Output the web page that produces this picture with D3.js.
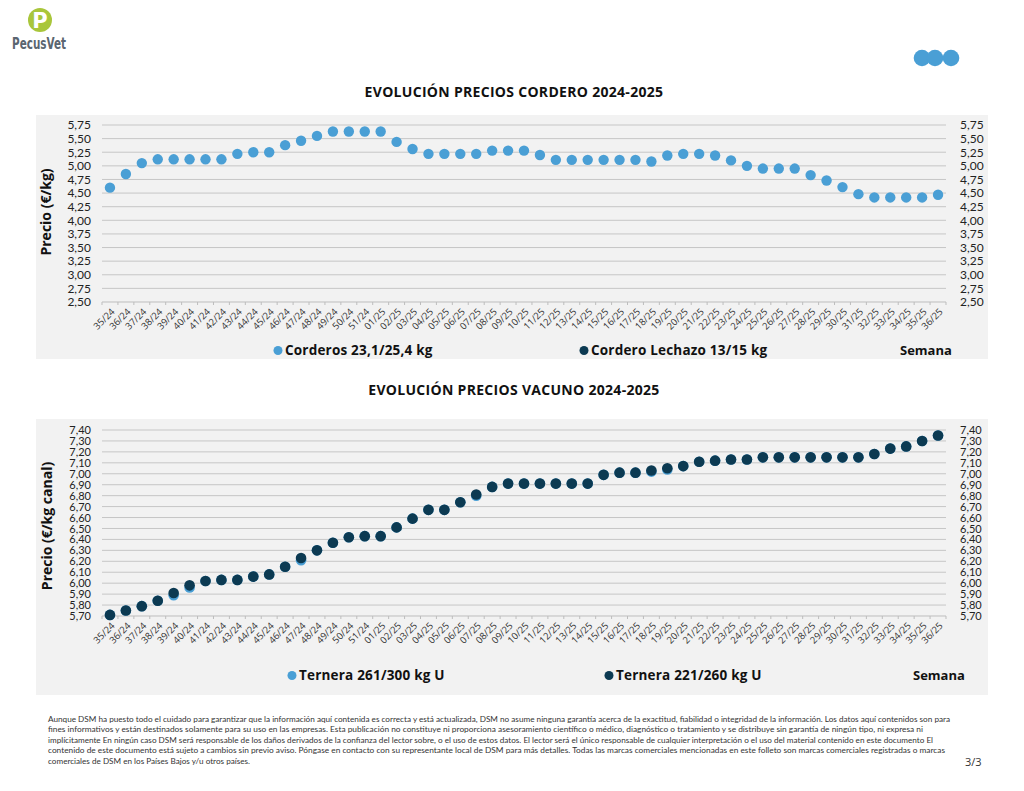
<!DOCTYPE html>
<html>
<head>
<meta charset="utf-8">
<script src="https://cdn.jsdelivr.net/npm/d3@7"></script>
<style>
  body { margin: 0; background: #fff; }
  svg { display: block; }
  text { font-family: "Open Sans", Lato, sans-serif; }
</style>
</head>
<body>
<script>
var width = 1024;
var height = 791;

// weeks 35/24 .. 51/24 and 01/25 .. 36/25
var weeks = ['35/24', '36/24', '37/24', '38/24', '39/24', '40/24', '41/24', '42/24', '43/24', '44/24', '45/24', '46/24', '47/24', '48/24', '49/24', '50/24', '51/24',
  '01/25', '02/25', '03/25', '04/25', '05/25', '06/25', '07/25', '08/25', '09/25', '10/25', '11/25', '12/25', '13/25', '14/25', '15/25', '16/25', '17/25', '18/25',
  '19/25', '20/25', '21/25', '22/25', '23/25', '24/25', '25/25', '26/25', '27/25', '28/25', '29/25', '30/25', '31/25', '32/25', '33/25', '34/25', '35/25', '36/25'];

var corderos = [4.60, 4.85, 5.05, 5.12, 5.12, 5.12, 5.12, 5.12, 5.22, 5.25, 5.25, 5.38, 5.46, 5.55, 5.63, 5.63, 5.63,
  5.63, 5.44, 5.31, 5.22, 5.22, 5.22, 5.22, 5.28, 5.28, 5.28, 5.20, 5.11, 5.11, 5.11, 5.11, 5.11, 5.11, 5.08,
  5.19, 5.22, 5.22, 5.19, 5.10, 5.00, 4.95, 4.95, 4.95, 4.83, 4.73, 4.61, 4.48, 4.42, 4.42, 4.42, 4.42, 4.47];

var ternera261 = [5.71, 5.75, 5.79, 5.84, 5.89, 5.96, 6.02, 6.03, 6.03, 6.06, 6.08, 6.15, 6.21, 6.30, 6.37, 6.42, 6.43,
  6.43, 6.51, 6.59, 6.67, 6.67, 6.74, 6.80, 6.88, 6.91, 6.91, 6.91, 6.91, 6.91, 6.91, 6.99, 7.01, 7.01, 7.02,
  7.04, 7.07, 7.11, 7.12, 7.13, 7.13, 7.15, 7.15, 7.15, 7.15, 7.15, 7.15, 7.15, 7.18, 7.23, 7.25, 7.30, 7.35];

var ternera221 = [5.71, 5.75, 5.79, 5.84, 5.91, 5.98, 6.02, 6.03, 6.03, 6.06, 6.08, 6.15, 6.23, 6.30, 6.37, 6.42, 6.43,
  6.43, 6.51, 6.59, 6.67, 6.67, 6.74, 6.81, 6.88, 6.91, 6.91, 6.91, 6.91, 6.91, 6.91, 6.99, 7.01, 7.01, 7.03,
  7.05, 7.07, 7.11, 7.12, 7.13, 7.13, 7.15, 7.15, 7.15, 7.15, 7.15, 7.15, 7.15, 7.18, 7.23, 7.25, 7.30, 7.35];

var corderoTicks = [2.50, 2.75, 3.00, 3.25, 3.50, 3.75, 4.00, 4.25, 4.50, 4.75, 5.00, 5.25, 5.50, 5.75];
var vacunoTicks = [5.70, 5.80, 5.90, 6.00, 6.10, 6.20, 6.30, 6.40, 6.50, 6.60, 6.70, 6.80, 6.90, 7.00, 7.10, 7.20, 7.30, 7.40];

var footer = [
  'Aunque DSM ha puesto todo el cuidado para garantizar que la información aquí contenida es correcta y está actualizada, DSM no asume ninguna garantía acerca de la exactitud, fiabilidad o integridad de la información. Los datos aquí contenidos son para',
  'fines informativos y están destinados solamente para su uso en las empresas. Esta publicación no constituye ni proporciona asesoramiento científico o médico, diagnóstico o tratamiento y se distribuye sin garantía de ningún tipo, ni expresa ni',
  'implícitamente En ningún caso DSM será responsable de los daños derivados de la confianza del lector sobre, o el uso de estos datos. El lector será el único responsable de cualquier interpretación o el uso del material contenido en este documento El',
  'contenido de este documento está sujeto a cambios sin previo aviso. Póngase en contacto con su representante local de DSM para más detalles. Todas las marcas comerciales mencionadas en este folleto son marcas comerciales registradas o marcas',
  'comerciales de DSM en los Países Bajos y/u otros países.'
];
var footerWidths = [902, 875, 885, 897, 202];

var light = '#4a9fd5';
var dark = '#0c3a52';
var comma = function (v) { return d3.format('.2f')(v).replace('.', ','); };

var svg = d3.select('body').append('svg').attr('width', width).attr('height', height);

// header
svg.append('circle').attr('cx', 40).attr('cy', 20).attr('r', 12).attr('fill', '#a9c63b');
svg.append('text').attr('x', 40).attr('y', 28).attr('text-anchor', 'middle').attr('fill', '#fff')
  .style('font-family', 'DejaVu Sans').style('font-weight', 'bold').style('font-size', '21px').text('P');
svg.append('text').attr('x', 12).attr('y', 49).attr('fill', '#5a6570')
  .attr('textLength', 54).attr('lengthAdjust', 'spacingAndGlyphs')
  .style('font-family', '"DejaVu Sans Condensed", "DejaVu Sans"').style('font-weight', 'bold').style('font-size', '15px').text('PecusVet');
[922, 935, 951].forEach(function (cx) {
  svg.append('circle').attr('cx', cx).attr('cy', 58).attr('r', 8.3).attr('fill', light);
});

var x = d3.scaleBand().domain(weeks).range([102, 946]);

function chart(o) {
  var g = svg.append('g');
  g.append('rect').attr('x', 36).attr('y', o.top).attr('width', 952).attr('height', o.bottom - o.top).attr('fill', '#f2f2f2');
  g.append('text').attr('x', 514).attr('y', o.titleY).attr('text-anchor', 'middle').attr('fill', '#111')
    .style('font-size', '14px').style('letter-spacing', '0.3px').style('font-weight', 'bold').text(o.title);

  var y = d3.scaleLinear().domain(o.domain).range(o.yRange);

  g.append('g').selectAll('line').data(o.ticks.slice(1)).enter().append('line')
    .attr('x1', 102).attr('x2', 946).attr('y1', y).attr('y2', y)
    .attr('stroke', '#c6c6c6').attr('stroke-width', 1);

  var yl = d3.axisLeft(y).tickValues(o.ticks).tickFormat(comma).tickSize(0).tickPadding(11);
  var yr = d3.axisRight(y).tickValues(o.ticks).tickFormat(comma).tickSize(0).tickPadding(14);
  [g.append('g').attr('transform', 'translate(102,0)').call(yl), g.append('g').attr('transform', 'translate(946,0)').call(yr)]
    .forEach(function (a) {
      a.select('.domain').remove();
      a.selectAll('text').style('font-size', o.tickFont).style('font-family', 'Lato, sans-serif').attr('fill', '#222');
    });

  // x axis with boundary ticks
  var base = o.yRange[0];
  g.append('line').attr('x1', 102).attr('x2', 946).attr('y1', base).attr('y2', base).attr('stroke', '#bdbdbd');
  g.append('g').selectAll('line').data(weeks.concat([null])).enter().append('line')
    .attr('x1', function (d, i) { return 102 + i * x.step(); }).attr('x2', function (d, i) { return 102 + i * x.step(); })
    .attr('y1', base).attr('y2', base + 3).attr('stroke', '#bdbdbd');
  g.append('g').selectAll('text').data(weeks).enter().append('text')
    .attr('transform', function (d) { return 'translate(' + (x(d) + x.bandwidth() / 2 + 3) + ',' + (base + 8) + ') rotate(-45)'; })
    .attr('text-anchor', 'end').attr('dy', '0.35em').attr('fill', '#333')
    .style('font-size', '9.5px').text(function (d) { return d; });

  g.append('text').attr('transform', 'translate(' + o.ytX + ',' + o.ytY + ') rotate(-90)')
    .attr('text-anchor', 'middle').attr('dy', '0.35em').attr('fill', '#111')
    .style('font-size', '14px').style('font-weight', 'bold').text(o.yTitle);

  o.series.forEach(function (s) {
    g.append('g').selectAll('circle').data(s.values).enter().append('circle')
      .attr('cx', function (d, i) { return x(weeks[i]) + x.bandwidth() / 2; })
      .attr('cy', y).attr('r', o.r).attr('fill', s.color);
  });

  o.legend.forEach(function (l) {
    g.append('circle').attr('cx', l.x).attr('cy', o.legendY - 4.5).attr('r', 4.5).attr('fill', l.color);
    g.append('text').attr('x', l.x + 7).attr('y', o.legendY).attr('fill', '#111')
      .style('font-size', '13.5px').style('letter-spacing', '0.2px').style('font-weight', 'bold').text(l.label);
  });
  g.append('text').attr('x', o.semanaX).attr('y', o.legendY).attr('fill', '#111')
    .style('font-size', '13px').style('font-weight', 'bold').text('Semana');
}

chart({
  top: 115, bottom: 359, titleY: 97, title: 'EVOLUCIÓN PRECIOS CORDERO 2024-2025',
  domain: [2.5, 5.75], yRange: [302, 125], ticks: corderoTicks, tickFont: '12px',
  ytX: 46, ytY: 212, yTitle: 'Precio (€/kg)', r: 5.2,
  series: [{ values: corderos, color: light }],
  legendY: 355, semanaX: 900,
  legend: [{ x: 278, color: light, label: 'Corderos 23,1/25,4 kg' }, { x: 584, color: dark, label: 'Cordero Lechazo 13/15 kg' }]
});

chart({
  top: 419, bottom: 695, titleY: 395, title: 'EVOLUCIÓN PRECIOS VACUNO 2024-2025',
  domain: [5.7, 7.4], yRange: [616, 430], ticks: vacunoTicks, tickFont: '11px',
  ytX: 47, ytY: 526, yTitle: 'Precio (€/kg canal)', r: 5.3,
  series: [{ values: ternera261, color: light }, { values: ternera221, color: dark }],
  legendY: 680, semanaX: 913,
  legend: [{ x: 292, color: light, label: 'Ternera 261/300 kg U' }, { x: 609, color: dark, label: 'Ternera 221/260 kg U' }]
});

// footer
svg.append('g').selectAll('text').data(footer).enter().append('text')
  .attr('x', 48).attr('y', function (d, i) { return 722 + i * 10.4; })
  .attr('fill', '#333').style('font-size', '7px').style('font-family', 'Lato, sans-serif')
  .attr('textLength', function (d, i) { return footerWidths[i]; })
  .attr('lengthAdjust', 'spacingAndGlyphs')
  .text(function (d) { return d; });
svg.append('text').attr('x', 965).attr('y', 766).attr('fill', '#333').style('font-size', '11px').text('3/3');
</script>
</body>
</html>
